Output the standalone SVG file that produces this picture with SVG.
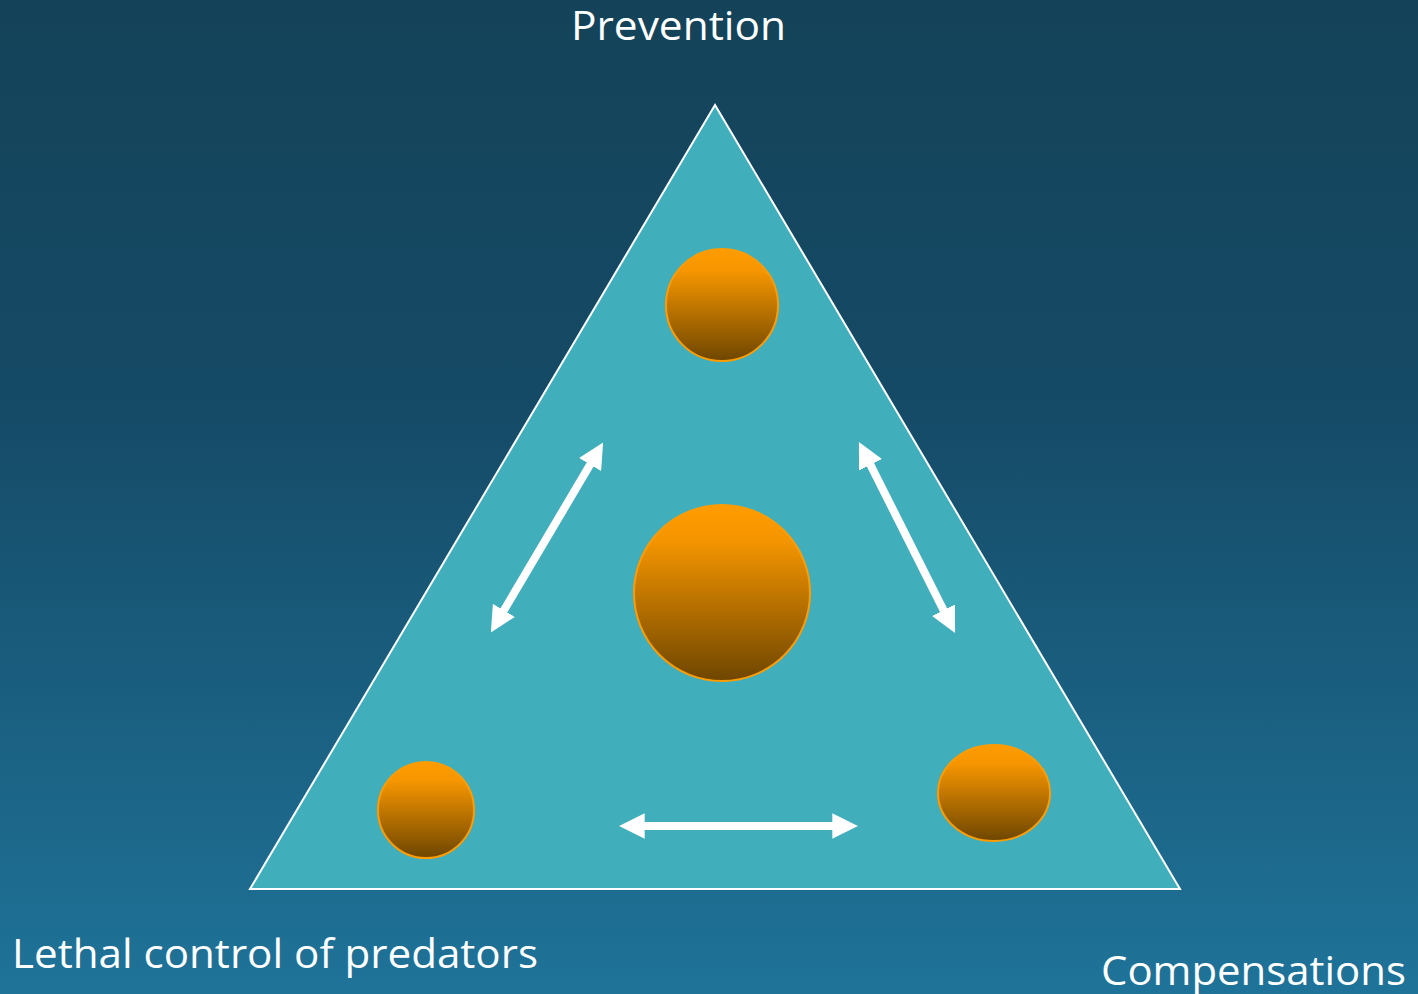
<svg xmlns="http://www.w3.org/2000/svg" width="1418" height="994" viewBox="0 0 1418 994">
<defs>
<linearGradient id="bg" x1="0" y1="0" x2="0" y2="1">
<stop offset="0" stop-color="#144359"/>
<stop offset="0.4" stop-color="#154a66"/>
<stop offset="1" stop-color="#1f7399"/>
</linearGradient>
<linearGradient id="ball" x1="0" y1="0" x2="0" y2="1">
<stop offset="0" stop-color="#ff9c00"/>
<stop offset="0.2" stop-color="#f59500"/>
<stop offset="1" stop-color="#6e4600"/>
</linearGradient>
<marker id="ah" viewBox="0 0 10 10" refX="3" refY="5" markerWidth="3.2" markerHeight="3.2" orient="auto-start-reverse" markerUnits="strokeWidth">
<path d="M0,0 L10,5 L0,10 Z" fill="#ffffff"/>
</marker>
<style>
.lbl{font-family:"Open Sans","Liberation Sans",sans-serif;font-size:40px;fill:#ffffff}
.ball{fill:url(#ball);stroke:#ff9c00;stroke-width:2}
.arr{stroke:#ffffff;stroke-width:8;fill:none;marker-start:url(#ah);marker-end:url(#ah)}
</style>
</defs>
<rect x="0" y="0" width="1418" height="994" fill="url(#bg)"/>
<g id="triangle">
<polygon points="715,105 250,889 1180,889" fill="#41aebc" stroke="#ffffff" stroke-width="2"/>
</g>
<g id="ball-top"><ellipse class="ball" cx="722" cy="305" rx="56" ry="56"/></g>
<g id="ball-center"><circle class="ball" cx="722" cy="593" r="88"/></g>
<g id="ball-left"><circle class="ball" cx="426" cy="810" r="48"/></g>
<g id="ball-right"><ellipse class="ball" cx="994" cy="793" rx="56" ry="48"/></g>
<g id="connectors">
<line class="arr" x1="594" y1="458" x2="500" y2="617"/>
<line class="arr" x1="867" y1="458" x2="947" y2="617"/>
<line class="arr" x1="637" y1="826" x2="840" y2="826"/>
</g>
<g id="label-prevention"><text class="lbl" x="571" y="40" textLength="215" lengthAdjust="spacingAndGlyphs">Prevention</text></g>
<g id="label-lethal"><text class="lbl" x="12" y="968" textLength="526" lengthAdjust="spacingAndGlyphs">Lethal control of predators</text></g>
<g id="label-compensations"><text class="lbl" x="1101" y="985" textLength="305" lengthAdjust="spacingAndGlyphs">Compensations</text></g>
</svg>
